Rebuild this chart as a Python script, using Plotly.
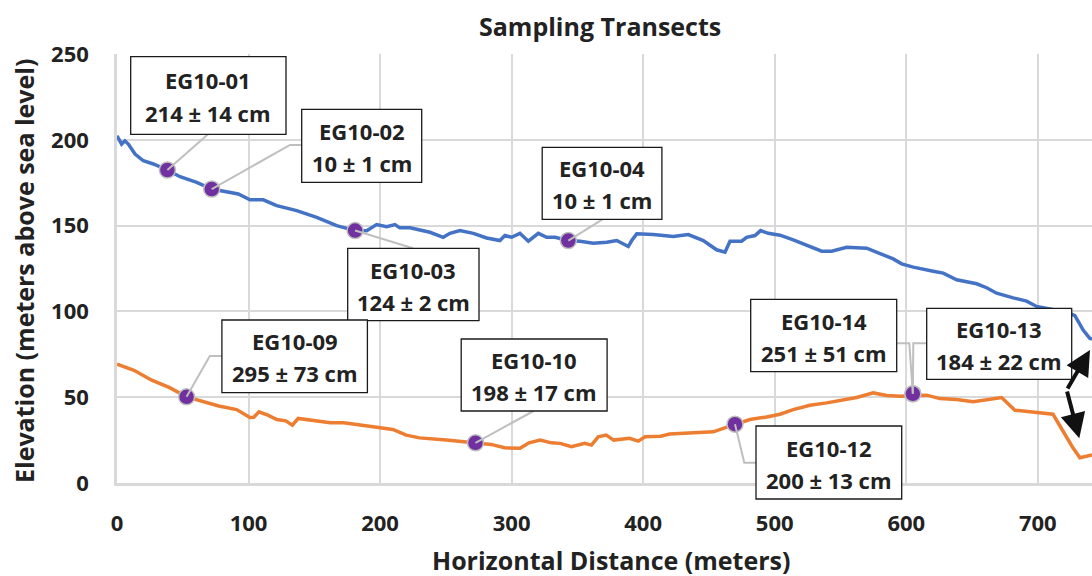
import plotly.graph_objects as go

# ---------------- data ----------------
blue_x = [0, 3.5, 6, 8.6, 13.7, 20, 27.6, 38.3, 47.9, 60.6, 72, 82.1, 92.2, 101.1, 111.2,
          121.4, 136.6, 151.8, 167, 181, 189.8, 197.4, 205, 211.3, 215, 222.7, 237.9, 248,
          253.1, 260.7, 270.9, 281, 291.1, 294.9, 300, 306.3, 312.7, 320.3, 326.6, 333,
          343.1, 352, 362.1, 372.3, 379.9, 388.7, 391.3, 395.1, 407.7, 422.8, 434.3, 445.7,
          455.8, 462.2, 466, 474.8, 478.6, 485, 489.3, 495.1, 504, 514.1, 526.8, 535.7,
          543.3, 554.7, 569.9, 580, 590.1, 596.5, 605.3, 620.5, 628.1, 638.3, 653.5, 661.1,
          668.7, 681.3, 691.5, 699.1, 712, 722, 728.2, 731, 734.6, 739.7, 741.2]
blue_y = [202.3, 197.5, 199.4, 197.5, 191.7, 187.8, 185.9, 182.4, 178.5, 175.2, 171.3, 170,
          168.4, 165, 165, 161.6, 158.7, 154.8, 150, 147.1, 147, 150.6, 149.4, 150.6, 148.7,
          148.7, 146.1, 143.2, 145.5, 147.1, 145.5, 142.8, 141.3, 144.2, 143.2, 145.5, 140.9,
          145.5, 143.2, 143.2, 141.3, 140.9, 139.7, 140.3, 141.3, 137.8, 141.3, 145.2, 144.8,
          143.6, 144.8, 141.3, 135.9, 134.5, 140.9, 140.9, 143.2, 144.2, 147.1, 145.5, 144.4,
          141.7, 137.8, 135.1, 135.1, 137.4, 136.8, 133.5, 130.6, 127.7, 125.8, 123.4, 122.3,
          118.4, 116.1, 113.8, 110.6, 107.9, 106, 102.9, 101, 99.5, 97.5, 94, 89, 84.1, 84]

orange_x = [0, 5, 12.9, 26.4, 40, 52.9, 67.2, 77.4, 90.9, 101.1, 104, 107.9, 114.7, 121.5,
            128.3, 133.3, 137.7, 148.6, 162.2, 172.4, 182.5, 199.5, 209.7, 219.9, 230, 250.4,
            264, 272.5, 284.4, 294.6, 306.4, 313.2, 321.7, 330.2, 337, 345.4, 355.6, 360.7,
            365.8, 371.9, 377.6, 389.6, 396.3, 401.4, 413.3, 420.1, 433.7, 443.2, 453.3,
            460.9, 469.8, 481.2, 493.9, 504, 514.1, 526.8, 539.5, 552.1, 562.3, 574.9, 585.1,
            595.2, 605.3, 615.5, 625.6, 638.3, 650.9, 661.1, 672.5, 682.6, 694, 706.7, 711.5,
            719.1, 726.7, 732, 736, 741.2]
orange_y = [69.2, 68, 65.7, 59.9, 55.6, 50.2, 47.3, 44.9, 42.8, 38.2, 38.3, 41.5, 39.5, 37,
            36.2, 33.7, 37.6, 36.6, 35.1, 35.1, 34.1, 32.7, 31.2, 27.9, 26.3, 25, 24, 23.4,
            22.5, 20.5, 20.2, 23.4, 25, 23.4, 23.1, 21.1, 23.1, 22.1, 26.9, 27.9, 25, 26, 24.4,
            26.9, 27.3, 28.5, 28.9, 29.5, 29.8, 31.8, 34.3, 37, 38.5, 40.1, 42.8, 45.3, 46.7,
            48.7, 49.8, 52.5, 51, 50.6, 51, 51.2, 49.2, 48.7, 47.3, 48.3, 49.8, 42.4, 41.4,
            40.5, 40.1, 30.3, 20.5, 14.7, 15.5, 16.3]

sample_names = ["EG10-01", "EG10-02", "EG10-03", "EG10-04", "EG10-09",
                "EG10-10", "EG10-12", "EG10-14", "EG10-13"]
sample_depths = ["214 ± 14 cm", "10 ± 1 cm", "124 ± 2 cm", "10 ± 1 cm", "295 ± 73 cm",
                 "198 ± 17 cm", "200 ± 13 cm", "251 ± 51 cm", "184 ± 22 cm"]
sample_x = [38.3, 72, 181, 343.1, 52.9, 272.5, 469.8, 605, 605]
sample_y = [182.4, 171.3, 147.1, 141.3, 50.2, 23.4, 34.3, 52, 52]

x_ticks = [0, 100, 200, 300, 400, 500, 600, 700]
y_ticks = [0, 50, 100, 150, 200, 250]

# ---------------- layout geometry (pixels) ----------------
W, H = 1092, 576
ML, MR, MT, MB = 117, 0, 54, 93
PW, PH = W - ML - MR, H - MT - MB
X_RANGE = [0, 741.2]
Y_RANGE = [0, 250]

def px(X):  # pixel -> paper
    return (X - ML) / PW

def py(Y):
    return (H - MB - Y) / PH

def dx(x):  # data -> paper
    return (x - X_RANGE[0]) / (X_RANGE[1] - X_RANGE[0])

def dy(y):
    return (y - Y_RANGE[0]) / (Y_RANGE[1] - Y_RANGE[0])

# label boxes: left, top, right, bottom ; leader elbow points (pixels) ending on the box
label_boxes = {
    "EG10-01": ((130.7, 56.7, 286, 134.3), [(208, 134.3)]),
    "EG10-02": ((301.7, 109.3, 421.7, 182.3), [(290, 145), (301.7, 145)]),
    "EG10-03": ((347.7, 248.3, 479, 320.7), [(413, 248.3)]),
    "EG10-04": ((542.2, 147.3, 661.9, 219.3), [(602.5, 219.3)]),
    "EG10-09": ((221.9, 320, 367.4, 392.7), [(209.8, 356), (221.9, 356)]),
    "EG10-10": ((461.2, 339, 607.1, 411), [(533.5, 411)]),
    "EG10-12": ((756, 426, 901.7, 499), [(744.3, 462.7), (756, 462.7)]),
    "EG10-14": ((750.7, 299.3, 896.7, 371.7), [(909.3, 343.3), (896.7, 343.3)]),
    "EG10-13": ((926.7, 308.3, 1071.7, 379.3), [(913.3, 343.3), (926.7, 343.3)]),
}

FONT = "Open Sans"
TXT = "#222222"
GRID = "#D9D9D9"

fig = go.Figure()
fig.add_trace(go.Scatter(x=blue_x, y=blue_y, mode="lines",
                         line=dict(color="#4472C4", width=3.5), hoverinfo="skip"))
fig.add_trace(go.Scatter(x=orange_x, y=orange_y, mode="lines",
                         line=dict(color="#ED7D31", width=3.5), hoverinfo="skip"))
fig.add_trace(go.Scatter(x=sample_x, y=sample_y, mode="markers",
                         marker=dict(color="#7030A0", size=16,
                                     line=dict(color="#BFBFBF", width=1.5)),
                         text=sample_names, hoverinfo="text"))

shapes = []
annotations = []
for name, depth, sx, sy in zip(sample_names, sample_depths, sample_x, sample_y):
    (l, t, r, b), pts = label_boxes[name]
    path = "M {:.5f},{:.5f}".format(dx(sx), dy(sy))
    for (X, Y) in pts:
        path += " L {:.5f},{:.5f}".format(px(X), py(Y))
    shapes.append(dict(type="path", path=path, xref="paper", yref="paper",
                       line=dict(color="#BFBFBF", width=2), layer="above"))
for name, depth in zip(sample_names, sample_depths):
    (l, t, r, b), pts = label_boxes[name]
    shapes.append(dict(type="rect", xref="paper", yref="paper",
                       x0=px(l), x1=px(r), y0=py(b), y1=py(t),
                       fillcolor="white", line=dict(color="#1a1a1a", width=1.3),
                       layer="above"))
    cx = (l + r) / 2
    cy = (t + b) / 2
    annotations.append(dict(text="<b>%s</b>" % name, x=px(cx), y=py(cy - 15),
                            xref="paper", yref="paper", showarrow=False,
                            xanchor="center", yanchor="middle",
                            font=dict(family=FONT, size=22, color=TXT)))
    annotations.append(dict(text="<b>%s</b>" % depth, x=px(cx), y=py(cy + 17),
                            xref="paper", yref="paper", showarrow=False,
                            xanchor="center", yanchor="middle",
                            font=dict(family=FONT, size=22, color=TXT)))

# bent double-headed arrow near EG10-13
kink = (1066.7, 390)
for tip in [(1090, 350), (1079.3, 438.3)]:
    annotations.append(dict(text="", x=px(tip[0]), y=py(tip[1]), xref="paper", yref="paper",
                            ax=kink[0] - tip[0], ay=kink[1] - tip[1],
                            showarrow=True, arrowhead=2, arrowsize=1.25, arrowwidth=4,
                            arrowcolor="#111111"))

# titles
annotations.append(dict(text="<b>Sampling Transects</b>", x=px(600), y=py(26),
                        xref="paper", yref="paper", showarrow=False,
                        xanchor="center", yanchor="middle",
                        font=dict(family=FONT, size=25, color=TXT)))
annotations.append(dict(text="<b>Horizontal Distance (meters)</b>", x=px(611), y=py(560),
                        xref="paper", yref="paper", showarrow=False,
                        xanchor="center", yanchor="middle",
                        font=dict(family=FONT, size=25, color=TXT)))
annotations.append(dict(text="<b>Elevation (meters above sea level)</b>", x=px(24), y=py(271),
                        xref="paper", yref="paper", showarrow=False, textangle=-90,
                        xanchor="center", yanchor="middle",
                        font=dict(family=FONT, size=25, color=TXT)))

fig.update_layout(
    width=W, height=H,
    margin=dict(l=ML, r=MR, t=MT, b=MB),
    paper_bgcolor="white", plot_bgcolor="white",
    showlegend=False,
    shapes=shapes, annotations=annotations,
    xaxis=dict(range=X_RANGE, tickvals=x_ticks, ticktext=["<b>%d</b>" % v for v in x_ticks],
               showgrid=True, gridcolor=GRID, gridwidth=2, zeroline=False,
               showline=True, linecolor=GRID, linewidth=2.5,
               ticks="outside", ticklen=19, tickcolor="rgba(0,0,0,0)",
               tickfont=dict(family=FONT, size=22, color=TXT)),
    yaxis=dict(range=Y_RANGE, tickvals=y_ticks, ticktext=["<b>%d</b>" % v for v in y_ticks],
               showgrid=True, gridcolor=GRID, gridwidth=2, zeroline=False,
               showline=True, linecolor=GRID, linewidth=2.5,
               ticks="outside", ticklen=21, tickcolor="rgba(0,0,0,0)",
               tickfont=dict(family=FONT, size=22, color=TXT)),
)

fig.write_html("out.html")
